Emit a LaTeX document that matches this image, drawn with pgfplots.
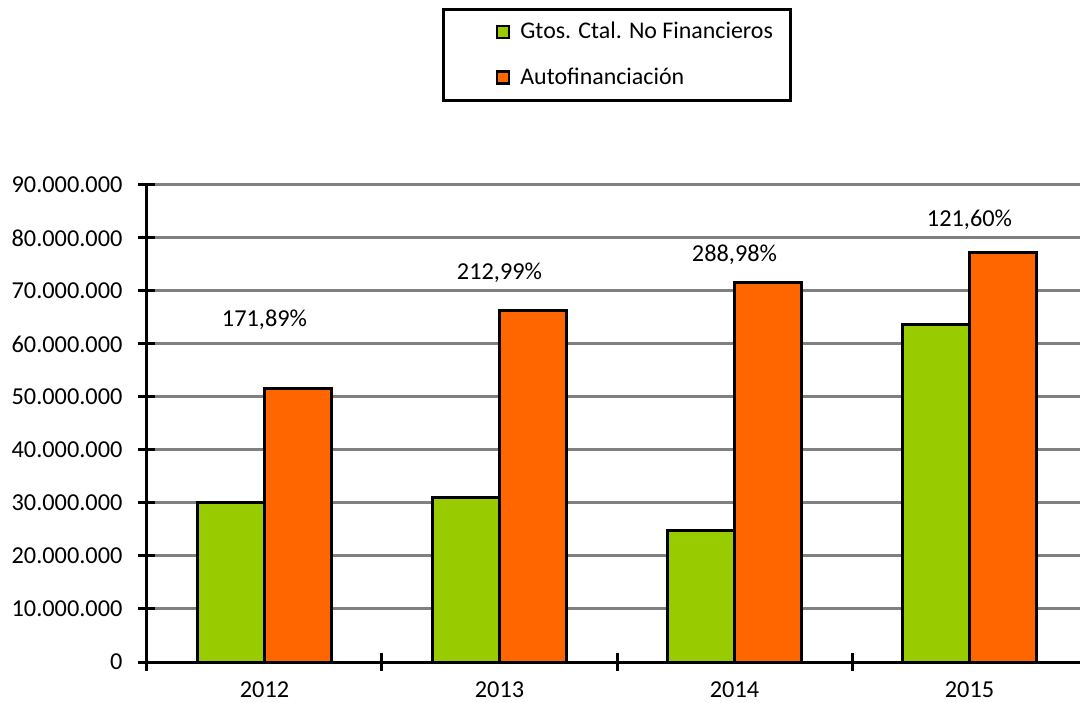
\documentclass[border=0pt]{standalone}
\usepackage{pgfplots}
\pgfplotsset{compat=1.18}
\usepackage{fontspec}
\setmainfont{Carlito}
\definecolor{gtgreen}{HTML}{99CC00}
\definecolor{aforange}{HTML}{FF6600}
\definecolor{gridgray}{HTML}{808080}

\begin{document}
\begin{tikzpicture}
\useasboundingbox (-73.5bp,-20.5bp) rectangle (466.5bp,331bp);
\begin{axis}[
  width=470bp, height=238.5bp,
  scale only axis,
  font=\fontsize{12.2}{14}\selectfont,
  ybar=0pt,
  bar width=0.285,
  xmin=-0.5, xmax=3.5,
  ymin=0, ymax=90000000,
  ytick={0,10000000,...,90000000},
  scaled y ticks=false,
  yticklabel style={
    /pgf/number format/fixed,
    /pgf/number format/precision=0,
    /pgf/number format/1000 sep={.},
    /pgf/number format/assume math mode=true,
    xshift=-4.5bp},
  xtick={-0.5,0.5,1.5,2.5,3.5},
  xticklabels={},
  extra x ticks={0,1,2,3},
  extra x tick labels={2012,2013,2014,2015},
  extra x tick style={major tick length=0pt, grid=none, xticklabel style={yshift=-6.5bp}},
  tick align=center,
  major tick length=8.5bp,
  tick style={black, line width=1.5bp},
  axis x line*=bottom,
  axis y line*=left,
  axis line style={-, black, line width=1.5bp},
  ymajorgrids,
  major grid style={gridgray, line width=1.5bp},
  legend style={
    at={(0.3137,1.372)}, anchor=north west,
    draw=black, line width=1.5bp,
    inner xsep=7bp, inner ysep=4.5bp,
    row sep=9bp,
    font=\fontsize{12}{14}\selectfont,
  },
  legend cell align=left,
  legend image code/.code={
    \path (-19bp,0) (9bp,0);
    \draw[#1, line width=1.2bp] (0bp,-3bp) rectangle (6bp,3bp);},
]
\addplot[fill=gtgreen, draw=black, line width=1.5bp] coordinates {
  (0,30000000) (1,31100000) (2,24800000) (3,63600000)
};
\addlegendentry{Gtos. Ctal. No Financieros}
\addplot[fill=aforange, draw=black, line width=1.5bp] coordinates {
  (0,51570000) (1,66240000) (2,71670000) (3,77340000)
};
\addlegendentry{Autofinanciación}
\node at (axis cs:0,64500000) {171,89\%};
\node at (axis cs:1,73400000) {212,99\%};
\node at (axis cs:2,76800000) {288,98\%};
\node at (axis cs:3,83400000) {121,60\%};
\end{axis}
\end{tikzpicture}
\end{document}
